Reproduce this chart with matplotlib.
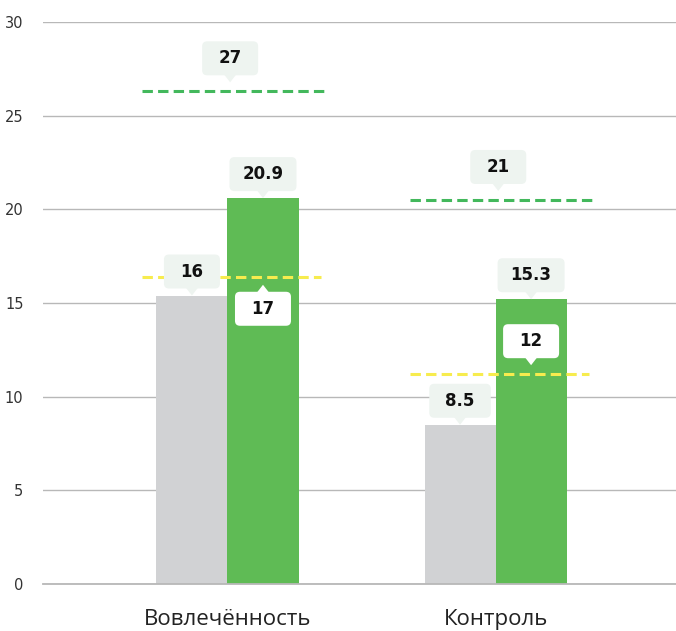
import matplotlib
matplotlib.use('Agg')
import matplotlib.pyplot as plt
import matplotlib.transforms as mtransforms
from matplotlib.patches import FancyBboxPatch, Polygon
import numpy as np

categories = ['Вовлечённость', 'Контроль']
gray_values = [15.4, 8.5]
gray_labels = ['16', '8.5']
green_values = [20.6, 15.2]
green_labels = ['20.9', '15.3']
target_green = [26.3, 20.5]
target_green_labels = ['27', '21']
target_yellow = [16.4, 11.2]
target_yellow_labels = ['17', '12']
yticks = [0, 5, 10, 15, 20, 25, 30]

GRAY = '#d1d2d4'
GREEN = '#5fbb55'
LINE_GREEN = '#43b85c'
LINE_YELLOW = '#f7ec4e'
BOX_LIGHT = '#eef4f0'
PX = 0.72  # points per pixel at dpi 100

fig = plt.figure(figsize=(6.76, 6.31), dpi=100)
ax = fig.add_axes([43 / 676, 1 - 584 / 631, 1 - 43 / 676, (584 - 22) / 631])

x = np.arange(len(categories))
w = 0.265
ax.bar(x - w / 2, gray_values, w, color=GRAY, zorder=2)
ax.bar(x + w / 2, green_values, w, color=GREEN, zorder=2)
ax.axhline(0, color='#b8b8b8', lw=1.3, zorder=3, clip_on=False)

for i in range(len(categories)):
    ax.plot([x[i] - 0.32, x[i] + 0.36], [target_green[i]] * 2, color=LINE_GREEN,
            lw=2.2, dashes=[3.4, 1.7], zorder=3)
    ax.plot([x[i] - 0.32, x[i] + 0.35], [target_yellow[i]] * 2, color=LINE_YELLOW,
            lw=2.2, dashes=[3.4, 1.7], zorder=3)


def callout(xd, yd, text, side, gap, face):
    # box + pointer drawn in points around the anchor point
    tr = mtransforms.Affine2D().scale(1 / 72) + fig.dpi_scale_trans
    tr = tr + mtransforms.ScaledTranslation(xd, yd, ax.transData)
    bw = (45 + 5.5 * len(text)) * PX
    bh = 34 * PX
    s = 1 if side == 'up' else -1
    tip = gap * PX * s
    base = tip + 7 * PX * s
    cy = base + s * bh / 2
    box = FancyBboxPatch((-bw / 2, cy - bh / 2), bw, bh,
                         boxstyle='round,pad=0,rounding_size=%.2f' % (5 * PX),
                         fc=face, ec='none', transform=tr, zorder=5, clip_on=False)
    tri = Polygon([(-6 * PX, base + s * 0.5), (6 * PX, base + s * 0.5), (0, tip)],
                  closed=True, fc=face, ec='none', transform=tr, zorder=5, clip_on=False)
    ax.add_patch(box)
    ax.add_patch(tri)
    ax.annotate(text, xy=(xd, yd), xytext=(0, cy), textcoords='offset points',
                ha='center', va='center', fontsize=12, fontweight='bold',
                color='#111111', zorder=6)


for i in range(len(categories)):
    callout(x[i] - w / 2, gray_values[i], gray_labels[i], 'up', 0, BOX_LIGHT)
    callout(x[i] + w / 2, green_values[i], green_labels[i], 'up', 0, BOX_LIGHT)
    callout(x[i] + 0.01, target_green[i], target_green_labels[i], 'up', 9, BOX_LIGHT)

callout(x[0] + w / 2, target_yellow[0], target_yellow_labels[0], 'down', 8, 'white')
callout(x[1] + w / 2, target_yellow[1], target_yellow_labels[1], 'up', 9, 'white')

ax.set_ylim(0, 30)
ax.set_xlim(-0.688, 1.673)
ax.set_yticks(yticks)
ax.set_xticks(x)
ax.set_xticklabels(categories, fontsize=16, color='#222222', family='Open Sans')
ax.tick_params(axis='x', length=0, pad=18)
ax.tick_params(axis='y', length=0, pad=14, labelsize=10.5, labelcolor='#333333')
ax.grid(axis='y', color='#b8b8b8', lw=1, zorder=0)
for sp in ax.spines.values():
    sp.set_visible(False)

fig.savefig('out.png', dpi=100)
